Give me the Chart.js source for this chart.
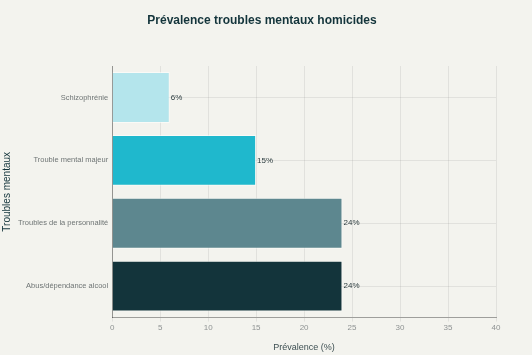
<!DOCTYPE html>
<html>
<head>
<meta charset="utf-8">
<script src="https://cdn.jsdelivr.net/npm/chart.js@4"></script>
<style>
  html, body { margin: 0; padding: 0; background: #F3F3EE; }
  #wrap { width: 532px; height: 355px; position: relative; }
</style>
</head>
<body>
<div id="wrap"><canvas id="c"></canvas></div>
<script>
const categories = ["Schizophrénie", "Trouble mental majeur", "Troubles de la personnalité", "Abus/dépendance alcool"];
const prevalence = [6, 15, 24, 24];
const barColors = ["#B4E5EC", "#1FB8CD", "#5D878F", "#13343B"];
const chartTitle = "Prévalence troubles mentaux homicides";
const xTitle = "Prévalence (%)";
const yTitle = "Troubles mentaux";

const FONT = "'Liberation Sans', Arial, sans-serif";

const valueLabels = {
  id: 'valueLabels',
  afterDatasetsDraw(chart) {
    const ctx = chart.ctx;
    const meta = chart.getDatasetMeta(0);
    ctx.save();
    ctx.font = "8px " + FONT;
    ctx.fillStyle = "#2b3b3e";
    ctx.textAlign = "left";
    ctx.textBaseline = "middle";
    meta.data.forEach((bar, i) => {
      ctx.fillText(prevalence[i] + "%", bar.x + 1, bar.y);
    });
    ctx.restore();
  }
};

const pageTitle = {
  id: 'pageTitle',
  afterDraw(chart) {
    const ctx = chart.ctx;
    ctx.save();
    ctx.font = "bold 12px " + FONT;
    ctx.fillStyle = "#13343B";
    ctx.textAlign = "center";
    ctx.textBaseline = "middle";
    ctx.fillText(chartTitle, 262, 21);
    ctx.restore();
  }
};

new Chart(document.getElementById('c'), {
  type: 'bar',
  data: {
    labels: categories,
    datasets: [{
      data: prevalence,
      backgroundColor: barColors,
      borderColor: "rgba(255,255,255,0.55)",
      borderWidth: 1,
      barPercentage: 0.9,
      categoryPercentage: 0.9
    }]
  },
  options: {
    indexAxis: 'y',
    responsive: true,
    maintainAspectRatio: false,
    animation: false,
    layout: { padding: { left: 0, right: 36, top: 66, bottom: 2 } },
    plugins: {
      legend: { display: false },
      tooltip: { enabled: false },
      title: { display: false }
    },
    scales: {
      x: {
        min: 0, max: 40,
        ticks: { stepSize: 5, color: "#8f9393", font: { family: FONT, size: 8 }, padding: 1 },
        grid: { color: "rgba(0,0,0,0.07)", tickLength: 4 },
        border: { color: "rgba(0,0,0,0.35)", display: true },
        title: { display: true, text: xTitle, color: "#3d4f52", font: { family: FONT, size: 9 }, padding: { top: 9, bottom: 0 } }
      },
      y: {
        ticks: { color: "#6f7575", font: { family: FONT, size: 7.5 }, padding: 4 },
        grid: { offset: false, color: "rgba(0,0,0,0.07)", drawTicks: false },
        border: { color: "rgba(0,0,0,0.35)" },
        title: { display: true, text: yTitle, color: "#13343B", font: { family: FONT, size: 10 }, padding: { top: 1, bottom: 1 } }
      }
    }
  },
  plugins: [valueLabels, pageTitle]
});
</script>
</body>
</html>
